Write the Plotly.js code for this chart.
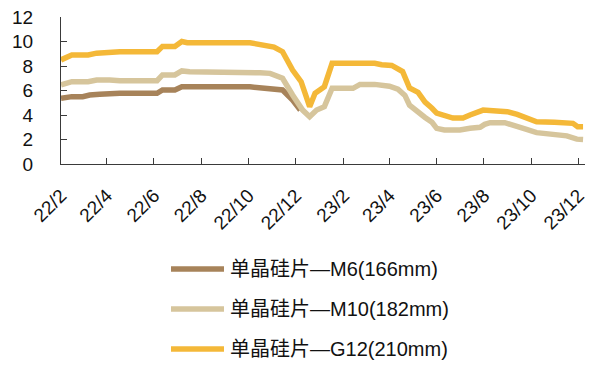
<!DOCTYPE html>
<html>
<head>
<meta charset="utf-8">
<script src="https://cdn.plot.ly/plotly-3.0.1.min.js"></script>
<style>
  html, body { margin: 0; padding: 0; background: #fff; }
  #chart { width: 590px; height: 365px; }
</style>
</head>
<body>
<div id="chart"></div>
<script>
// Monocrystalline wafer prices, weekly quotes (RMB/piece)
const seriesNames = ['单晶硅片—M6(166mm)', '单晶硅片—M10(182mm)', '单晶硅片—G12(210mm)'];
const seriesColors = ['#A7835A', '#D6C59C', '#F4B838'];

const m6Dates = ['2022-02-01','2022-02-15','2022-03-01','2022-03-10','2022-03-23','2022-04-18',
  '2022-06-05','2022-06-12','2022-06-28','2022-07-07','2022-10-03','2022-10-16','2022-10-29',
  '2022-11-14','2022-11-27','2022-12-07'];
const m6Vals = [5.36,5.5,5.5,5.63,5.7,5.77,
  5.77,6.04,6.04,6.31,6.3,6.23,6.2,
  6.04,5.22,4.4];

const m10Dates = ['2022-02-01','2022-02-15','2022-03-08','2022-03-19','2022-04-05','2022-04-18',
  '2022-06-05','2022-06-12','2022-06-28','2022-07-07','2022-07-17','2022-10-03','2022-10-16',
  '2022-10-29','2022-11-14','2022-11-27','2022-12-10','2022-12-19','2022-12-28','2023-01-07',
  '2023-01-17','2023-02-13','2023-02-22','2023-03-13','2023-04-01','2023-04-12','2023-04-21',
  '2023-04-27','2023-05-08','2023-05-17','2023-05-26','2023-06-01','2023-06-11','2023-07-01',
  '2023-07-14','2023-07-27','2023-08-02','2023-08-09','2023-08-28','2023-09-13','2023-09-23',
  '2023-10-08','2023-11-01','2023-11-16','2023-11-29','2023-12-07'];
const m10Vals = [6.45,6.72,6.72,6.86,6.86,6.8,
  6.8,7.27,7.27,7.6,7.53,7.53,7.45,
  7.4,7.0,5.63,4.4,3.86,4.4,4.68,
  6.18,6.18,6.5,6.5,6.35,6.1,5.6,
  4.8,4.2,3.8,3.4,2.91,2.78,2.78,
  2.91,3.0,3.24,3.37,3.37,3.1,2.86,
  2.56,2.45,2.3,2.03,2.0];

const g12Dates = ['2022-02-01','2022-02-15','2022-03-08','2022-03-19','2022-04-18','2022-06-05',
  '2022-06-12','2022-06-28','2022-07-07','2022-07-14','2022-10-03','2022-10-16','2022-10-25',
  '2022-11-03','2022-11-14','2022-11-27','2022-12-08','2022-12-19','2022-12-26','2023-01-07',
  '2023-01-17','2023-03-13','2023-03-22','2023-04-04','2023-04-18','2023-04-27','2023-05-08',
  '2023-05-17','2023-05-26','2023-06-01','2023-06-22','2023-07-05','2023-07-14','2023-07-31',
  '2023-08-13','2023-08-31','2023-09-13','2023-09-20','2023-09-29','2023-10-08','2023-10-31',
  '2023-11-16','2023-11-24','2023-11-30','2023-12-07'];
const g12Vals = [8.5,8.9,8.9,9.05,9.17,9.17,
  9.6,9.6,10.0,9.9,9.9,9.77,9.75,
  9.55,9.17,7.67,6.72,4.68,5.77,6.31,
  8.22,8.22,8.1,8.05,7.55,6.2,5.85,
  5.05,4.55,4.15,3.75,3.75,4.0,4.4,
  4.35,4.27,4.05,3.86,3.73,3.45,3.4,
  3.32,3.32,3.05,3.05];

const tickDates = ['2022-02-01','2022-04-01','2022-06-01','2022-08-01','2022-10-01','2022-12-01',
  '2023-02-01','2023-04-01','2023-06-01','2023-08-01','2023-10-01','2023-12-01'];
const tickLabels = ['22/2','22/4','22/6','22/8','22/10','22/12','23/2','23/4','23/6','23/8','23/10','23/12'];

const allDates = [m6Dates, m10Dates, g12Dates];
const allVals = [m6Vals, m10Vals, g12Vals];

const FONT = 'Liberation Sans, Arial, Noto Sans CJK SC, sans-serif';
const AXIS_COLOR = '#3a3a3a';

const traces = seriesNames.map((name, i) => ({
  type: 'scatter',
  mode: 'lines',
  name: name,
  x: allDates[i],
  y: allVals[i],
  line: { color: seriesColors[i], width: 5.5, shape: 'linear' },
  hoverinfo: 'x+y+name'
}));

// plot area in pixels
const W = 590, H = 365;
const M = { l: 61, r: 5, t: 17, b: 201 };
const plotW = W - M.l - M.r, plotH = H - M.t - M.b;
const px = x => (x - M.l) / plotW;
const py = y => (M.t + plotH - y) / plotH;

// legend drawn below the axes
const legendRows = [269, 309, 349];
const shapes = [], annotations = [];
seriesNames.forEach((name, i) => {
  shapes.push({
    type: 'line', xref: 'paper', yref: 'paper',
    x0: px(171), x1: px(224), y0: py(legendRows[i]), y1: py(legendRows[i]),
    line: { color: seriesColors[i], width: 5.5 }
  });
  annotations.push({
    xref: 'paper', yref: 'paper', x: px(228), y: py(legendRows[i]),
    xanchor: 'left', yanchor: 'middle', showarrow: false,
    text: name, font: { family: FONT, size: 20, color: '#111' }
  });
});

const layout = {
  width: W, height: H,
  margin: M,
  paper_bgcolor: '#fff', plot_bgcolor: '#fff',
  showlegend: false,
  font: { family: FONT, size: 19, color: '#111' },
  xaxis: {
    type: 'date',
    range: ['2022-02-01', '2023-12-09 12:00'],
    tickmode: 'array', tickvals: tickDates, ticktext: tickLabels,
    tickangle: -45,
    ticks: 'inside', ticklen: 6, tickcolor: AXIS_COLOR, tickwidth: 1,
    showline: true, linecolor: AXIS_COLOR, linewidth: 1,
    showgrid: false, zeroline: false,
    ticklabelstandoff: 12,
    tickfont: { family: FONT, size: 19, color: '#111' },
    fixedrange: true
  },
  yaxis: {
    range: [0, 12],
    tickvals: [0, 2, 4, 6, 8, 10, 12],
    ticks: 'inside', ticklen: 6, tickcolor: AXIS_COLOR, tickwidth: 1,
    showline: true, linecolor: AXIS_COLOR, linewidth: 1,
    showgrid: false, zeroline: false,
    ticklabelstandoff: 23,
    tickfont: { family: FONT, size: 19, color: '#111' },
    fixedrange: true
  },
  shapes: shapes,
  annotations: annotations
};

Plotly.newPlot('chart', traces, layout, { displayModeBar: false, staticPlot: true });
</script>
</body>
</html>
